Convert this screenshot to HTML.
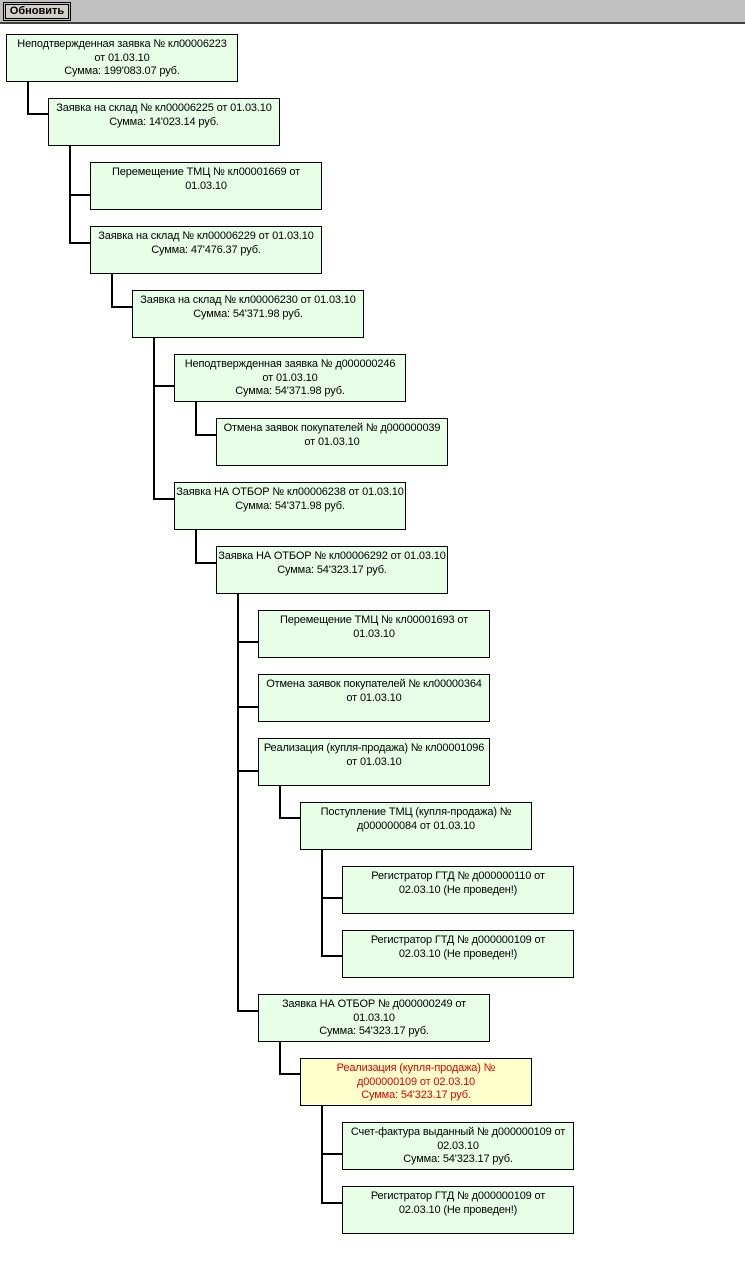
<!DOCTYPE html>
<html><head><meta charset="utf-8">
<style>
body{margin:0;width:745px;height:1267px;background:#fff;position:relative;overflow:hidden;font-family:"Liberation Sans","DejaVu Sans",sans-serif;}
.hdr{position:absolute;left:0;top:0;width:745px;height:22px;background:#c0c0c0;border-bottom:2px solid #404040;}
.btn{position:absolute;left:5px;top:4px;width:62px;height:13px;border:1px solid #000;outline:1px solid #000;outline-offset:1px;background:#d4d0c8;font-weight:bold;font-size:11px;line-height:13px;text-align:center;}
.b{position:absolute;width:230px;border:1px solid #000;background:#e6ffe6;font-size:11px;letter-spacing:-0.15px;line-height:13.5px;text-align:center;white-space:nowrap;padding-top:3px;height:43px;color:#000;overflow:visible;}
.y{background:#ffffcc;color:#e00000;}
.v,.h{position:absolute;background:#000;}
.v{width:2px}.h{height:2px}
</style></head><body>
<div class="hdr"><div class="btn">Обновить</div></div>

<div class="b" style="left:6px;top:34px">Неподтвержденная заявка № кл00006223<br>от 01.03.10<br>Сумма: 199'083.07 руб.</div>
<div class="b" style="left:48px;top:98px">Заявка на склад № кл00006225 от 01.03.10<br>Сумма: 14'023.14 руб.</div>
<div class="b" style="left:90px;top:162px">Перемещение ТМЦ № кл00001669 от<br>01.03.10</div>
<div class="b" style="left:90px;top:226px">Заявка на склад № кл00006229 от 01.03.10<br>Сумма: 47'476.37 руб.</div>
<div class="b" style="left:132px;top:290px">Заявка на склад № кл00006230 от 01.03.10<br>Сумма: 54'371.98 руб.</div>
<div class="b" style="left:174px;top:354px">Неподтвержденная заявка № д000000246<br>от 01.03.10<br>Сумма: 54'371.98 руб.</div>
<div class="b" style="left:216px;top:418px">Отмена заявок покупателей № д000000039<br>от 01.03.10</div>
<div class="b" style="left:174px;top:482px">Заявка НА ОТБОР № кл00006238 от 01.03.10<br>Сумма: 54'371.98 руб.</div>
<div class="b" style="left:216px;top:546px">Заявка НА ОТБОР № кл00006292 от 01.03.10<br>Сумма: 54'323.17 руб.</div>
<div class="b" style="left:258px;top:610px">Перемещение ТМЦ № кл00001693 от<br>01.03.10</div>
<div class="b" style="left:258px;top:674px">Отмена заявок покупателей № кл00000364<br>от 01.03.10</div>
<div class="b" style="left:258px;top:738px">Реализация (купля-продажа) № кл00001096<br>от 01.03.10</div>
<div class="b" style="left:300px;top:802px">Поступление ТМЦ (купля-продажа) №<br>д000000084 от 01.03.10</div>
<div class="b" style="left:342px;top:866px">Регистратор ГТД № д000000110 от<br>02.03.10 (Не проведен!)</div>
<div class="b" style="left:342px;top:930px">Регистратор ГТД № д000000109 от<br>02.03.10 (Не проведен!)</div>
<div class="b" style="left:258px;top:994px">Заявка НА ОТБОР № д000000249 от<br>01.03.10<br>Сумма: 54'323.17 руб.</div>
<div class="b y" style="left:300px;top:1058px">Реализация (купля-продажа) №<br>д000000109 от 02.03.10<br>Сумма: 54'323.17 руб.</div>
<div class="b" style="left:342px;top:1122px">Счет-фактура выданный № д000000109 от<br>02.03.10<br>Сумма: 54'323.17 руб.</div>
<div class="b" style="left:342px;top:1186px">Регистратор ГТД № д000000109 от<br>02.03.10 (Не проведен!)</div>

<div class="v" style="left:27px;top:82px;height:33px"></div>
<div class="v" style="left:69px;top:146px;height:98px"></div>
<div class="v" style="left:111px;top:274px;height:34px"></div>
<div class="v" style="left:153px;top:338px;height:162px"></div>
<div class="v" style="left:195px;top:402px;height:34px"></div>
<div class="v" style="left:195px;top:530px;height:34px"></div>
<div class="v" style="left:237px;top:594px;height:418px"></div>
<div class="v" style="left:279px;top:786px;height:33px"></div>
<div class="v" style="left:321px;top:850px;height:107px"></div>
<div class="v" style="left:279px;top:1042px;height:33px"></div>
<div class="v" style="left:321px;top:1106px;height:98px"></div>
<div class="h" style="left:27px;top:113px;width:21px"></div>
<div class="h" style="left:69px;top:194px;width:21px"></div>
<div class="h" style="left:69px;top:242px;width:21px"></div>
<div class="h" style="left:111px;top:306px;width:21px"></div>
<div class="h" style="left:153px;top:385px;width:21px"></div>
<div class="h" style="left:195px;top:434px;width:21px"></div>
<div class="h" style="left:153px;top:498px;width:21px"></div>
<div class="h" style="left:195px;top:562px;width:21px"></div>
<div class="h" style="left:237px;top:641px;width:21px"></div>
<div class="h" style="left:237px;top:706px;width:21px"></div>
<div class="h" style="left:237px;top:770px;width:21px"></div>
<div class="h" style="left:279px;top:817px;width:21px"></div>
<div class="h" style="left:321px;top:897px;width:21px"></div>
<div class="h" style="left:321px;top:955px;width:21px"></div>
<div class="h" style="left:237px;top:1010px;width:21px"></div>
<div class="h" style="left:279px;top:1073px;width:21px"></div>
<div class="h" style="left:321px;top:1153px;width:21px"></div>
<div class="h" style="left:321px;top:1202px;width:21px"></div>
</body></html>
